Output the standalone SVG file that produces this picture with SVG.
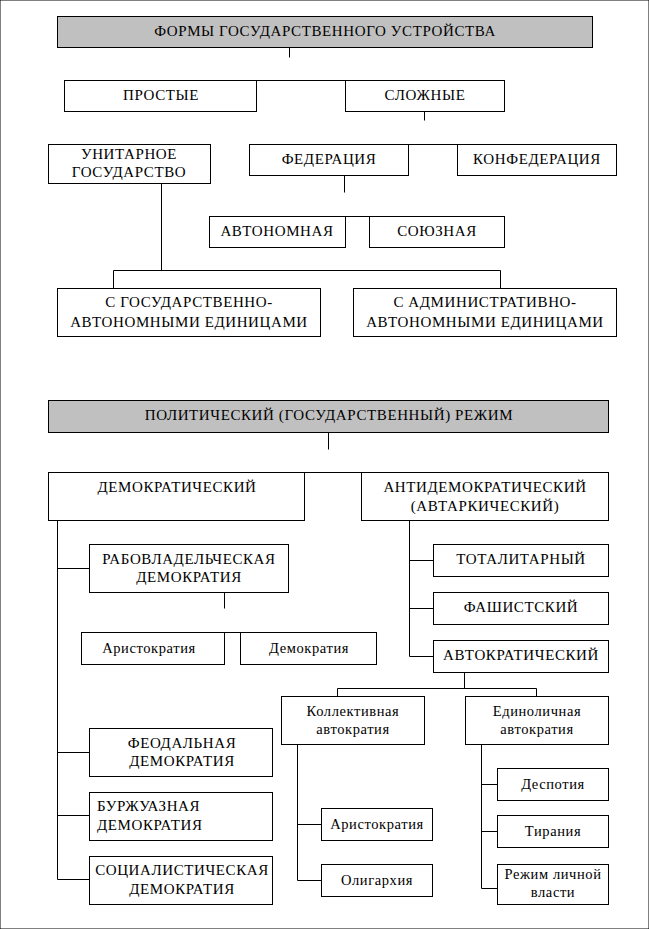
<svg xmlns="http://www.w3.org/2000/svg" width="649" height="929" viewBox="0 0 649 929">
<style>
rect{fill:#fff;stroke:#000;stroke-width:1}
rect.h{fill:#c0c0c0}
text{font-family:'Liberation Serif','DejaVu Serif',serif;font-size:15px;letter-spacing:0.6px;fill:#000;text-anchor:middle}
text.s{font-size:14.5px;letter-spacing:0.6px}
text.l{text-anchor:start}
#connectors path{fill:none;stroke:#000;stroke-width:1}
</style>
<rect width="649" height="929" fill="#fff" stroke="none"/>
<g id="connectors">
<path d="M289.5 47.5V57.5"/>
<path d="M256.5 80.5H345.5"/>
<path d="M424.5 111.5V120.5"/>
<path d="M408.5 144.5H457.5"/>
<path d="M344.5 175.5V192.5"/>
<path d="M345.5 216.5H369.5"/>
<path d="M161.5 183.5V270.5M113.5 288V270.5H500.5V288"/>
<path d="M328.5 432.5V449.5"/>
<path d="M304.5 472.5H361.5"/>
<path d="M57.5 520V879.5H89M57.5 568.5H89M57.5 752.5H89M57.5 815.5H89"/>
<path d="M224.5 592V608.5"/>
<path d="M224.5 632.5H240.5"/>
<path d="M409.5 520V656.5H433M409.5 560.5H433M409.5 608.5H433"/>
<path d="M464.5 672V688.5M337.5 696V688.5H536.5V696"/>
<path d="M297.5 744V880.5H321M297.5 824.5H321"/>
<path d="M481.5 744V888.5H497M481.5 784.5H497M481.5 831.5H497"/>
</g>
<g id="n-forms"><rect class="h" x="57.5" y="16.5" width="535" height="31"/><text x="325" y="36">ФОРМЫ ГОСУДАРСТВЕННОГО УСТРОЙСТВА</text></g>
<g id="n-simple"><rect x="64.5" y="80.5" width="192" height="31"/><text x="161" y="100">ПРОСТЫЕ</text></g>
<g id="n-complex"><rect x="345.5" y="80.5" width="159" height="31"/><text x="425" y="100">СЛОЖНЫЕ</text></g>
<g id="n-unitary"><rect x="48.5" y="144.5" width="162" height="39"/><text x="129" y="159">УНИТАРНОЕ</text><text x="129" y="177">ГОСУДАРСТВО</text></g>
<g id="n-federation"><rect x="249.5" y="144.5" width="159" height="31"/><text x="329" y="164">ФЕДЕРАЦИЯ</text></g>
<g id="n-confed"><rect x="457.5" y="144.5" width="159" height="31"/><text x="537" y="164">КОНФЕДЕРАЦИЯ</text></g>
<g id="n-auto"><rect x="209.5" y="216.5" width="136" height="31"/><text x="277" y="236">АВТОНОМНАЯ</text></g>
<g id="n-union"><rect x="369.5" y="216.5" width="135" height="31"/><text x="437" y="236">СОЮЗНАЯ</text></g>
<g id="n-stateauto"><rect x="57.5" y="288.5" width="263" height="48"/><text x="189" y="307">С ГОСУДАРСТВЕННО-</text><text x="189" y="327">АВТОНОМНЫМИ ЕДИНИЦАМИ</text></g>
<g id="n-adminauto"><rect x="353.5" y="288.5" width="263" height="48"/><text x="485" y="307">С АДМИНИСТРАТИВНО-</text><text x="485" y="327">АВТОНОМНЫМИ ЕДИНИЦАМИ</text></g>
<g id="n-regime"><rect class="h" x="48.5" y="400.5" width="560" height="32"/><text x="329" y="420">ПОЛИТИЧЕСКИЙ (ГОСУДАРСТВЕННЫЙ) РЕЖИМ</text></g>
<g id="n-dem"><rect x="48.5" y="472.5" width="256" height="48"/><text x="177" y="492">ДЕМОКРАТИЧЕСКИЙ</text></g>
<g id="n-antidem"><rect x="361.5" y="472.5" width="247" height="48"/><text x="485" y="492">АНТИДЕМОКРАТИЧЕСКИЙ</text><text x="485" y="511">(АВТАРКИЧЕСКИЙ)</text></g>
<g id="n-slave"><rect x="89.5" y="544.5" width="199" height="48"/><text x="189" y="564">РАБОВЛАДЕЛЬЧЕСКАЯ</text><text x="189" y="582">ДЕМОКРАТИЯ</text></g>
<g id="n-arist1"><rect x="81.5" y="632.5" width="143" height="32"/><text class="s" x="149" y="653">Аристократия</text></g>
<g id="n-democ1"><rect x="240.5" y="632.5" width="136" height="32"/><text class="s" x="309" y="653">Демократия</text></g>
<g id="n-feudal"><rect x="89.5" y="728.5" width="183" height="48"/><text x="182" y="748">ФЕОДАЛЬНАЯ</text><text x="182" y="766">ДЕМОКРАТИЯ</text></g>
<g id="n-bourg"><rect x="89.5" y="792.5" width="183" height="48"/><text class="l" x="97" y="811">БУРЖУАЗНАЯ</text><text class="l" x="97" y="830">ДЕМОКРАТИЯ</text></g>
<g id="n-social"><rect x="89.5" y="856.5" width="183" height="48"/><text x="182" y="875">СОЦИАЛИСТИЧЕСКАЯ</text><text x="182" y="894">ДЕМОКРАТИЯ</text></g>
<g id="n-total"><rect x="433.5" y="544.5" width="175" height="32"/><text x="521" y="564">ТОТАЛИТАРНЫЙ</text></g>
<g id="n-fasc"><rect x="433.5" y="592.5" width="175" height="32"/><text x="521" y="612">ФАШИСТСКИЙ</text></g>
<g id="n-autocr"><rect x="433.5" y="640.5" width="175" height="32"/><text x="521" y="660">АВТОКРАТИЧЕСКИЙ</text></g>
<g id="n-coll"><rect x="281.5" y="696.5" width="143" height="48"/><text class="s" x="353" y="716">Коллективная</text><text class="s" x="353" y="734">автократия</text></g>
<g id="n-single"><rect x="465.5" y="696.5" width="143" height="48"/><text class="s" x="537" y="716">Единоличная</text><text class="s" x="537" y="734">автократия</text></g>
<g id="n-arist2"><rect x="321.5" y="808.5" width="111" height="32"/><text class="s" x="377" y="829">Аристократия</text></g>
<g id="n-olig"><rect x="321.5" y="864.5" width="111" height="32"/><text class="s" x="377" y="885">Олигархия</text></g>
<g id="n-desp"><rect x="497.5" y="768.5" width="111" height="32"/><text class="s" x="553" y="789">Деспотия</text></g>
<g id="n-tyr"><rect x="497.5" y="815.5" width="111" height="32"/><text class="s" x="553" y="836">Тирания</text></g>
<g id="n-personal"><rect x="497.5" y="864.5" width="111" height="40"/><text class="s" x="553" y="879">Режим личной</text><text class="s" x="553" y="897">власти</text></g>
</svg>
